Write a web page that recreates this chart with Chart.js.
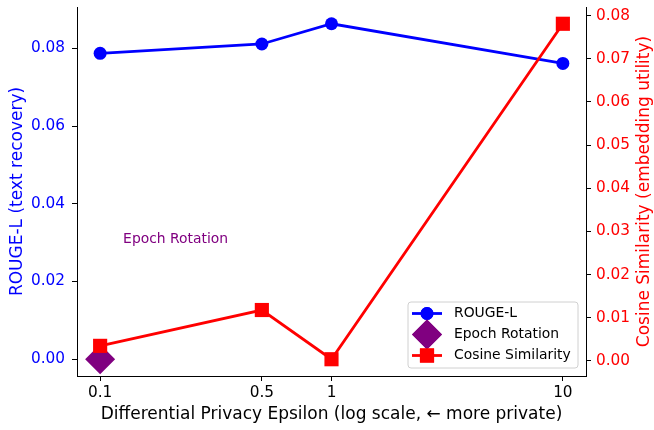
<!DOCTYPE html>
<html>
<head>
<meta charset="utf-8">
<script src="https://cdn.jsdelivr.net/npm/chart.js@4"></script>
<style>
  html, body { margin: 0; padding: 0; background: #fff; }
  #wrap { width: 654px; height: 430px; }
</style>
</head>
<body>
<div id="wrap"><canvas id="myChart" width="654" height="430"></canvas></div>
<script>
const epsilons = [0.1, 0.5, 1, 10];
const rougeL = [0.0787, 0.0811, 0.0863, 0.0761];
const cosineSim = [0.0035, 0.0118, 0.0004, 0.0781];
const epochEps = [0.1];
const epochRouge = [0.0];
const xTicks = [0.1, 0.5, 1, 10];
const xTickLabels = ["0.1", "0.5", "1", "10"];
const leftTicks = [0, 0.02, 0.04, 0.06, 0.08];
const rightTicks = [0, 0.01, 0.02, 0.03, 0.04, 0.05, 0.06, 0.07, 0.08];

const FONT = "'DejaVu Sans', sans-serif";
const TICK = 15.3, TITLE = 17, SMALL = 13.9;

// matplotlib-like 5% margins
const pad = (lo, hi) => [lo - (hi - lo) * 0.05, hi + (hi - lo) * 0.05];
const leftLim = pad(Math.min(...rougeL, ...epochRouge), Math.max(...rougeL, ...epochRouge));
const rightLim = pad(Math.min(...cosineSim), Math.max(...cosineSim));
const lx = pad(Math.log10(Math.min(...epsilons)), Math.log10(Math.max(...epsilons)));

const toPts = (xs, ys) => xs.map((x, i) => ({ x: x, y: ys[i] }));

const series = [
  { label: "ROUGE-L", color: "#0000ff", style: "circle", r: 6.5 },
  { label: "Epoch Rotation", color: "#800080", style: "rectRot", r: 15 },
  { label: "Cosine Similarity", color: "#ff0000", style: "rect", r: 10 }
];

const extras = {
  id: "extras",
  afterDraw(chart) {
    const ctx = chart.ctx;
    const xs = chart.scales.x, ys = chart.scales.y;
    const ca = chart.chartArea;
    ctx.save();
    // annotation
    ctx.font = SMALL + "px " + FONT;
    ctx.fillStyle = "#800080";
    ctx.textAlign = "left";
    ctx.textBaseline = "alphabetic";
    ctx.fillText("Epoch Rotation", xs.getPixelForValue(0.1257), ys.getPixelForValue(0.03));

    // right axis title, bottom-to-top like matplotlib
    ctx.translate(645, (ca.top + ca.bottom) / 2);
    ctx.rotate(-Math.PI / 2);
    ctx.font = TITLE + "px " + FONT;
    ctx.fillStyle = "#ff0000";
    ctx.textAlign = "center";
    ctx.textBaseline = "middle";
    ctx.fillText("Cosine Similarity (embedding utility)", 0, 0);
    ctx.restore();

    // legend
    ctx.save();
    const bx = 408, by = 302, bw = 170, bh = 66;
    ctx.beginPath();
    ctx.roundRect(bx, by, bw, bh, 3);
    ctx.fillStyle = "rgba(255,255,255,0.8)";
    ctx.fill();
    ctx.strokeStyle = "#d0d0d0";
    ctx.lineWidth = 1;
    ctx.stroke();
    series.forEach((s, i) => {
      const yy = 313.5 + i * 21;
      if (s.style !== "rectRot") {
        ctx.beginPath();
        ctx.moveTo(412, yy);
        ctx.lineTo(442, yy);
        ctx.strokeStyle = s.color;
        ctx.lineWidth = 2.8;
        ctx.stroke();
      }
      ctx.fillStyle = s.color;
      ctx.strokeStyle = s.color;
      Chart.helpers.drawPoint(ctx, { pointStyle: s.style, radius: s.r, rotation: 0, borderWidth: 0 }, 427, yy);
      ctx.fill();
      ctx.fillStyle = "#000";
      ctx.font = SMALL + "px " + FONT;
      ctx.textAlign = "left";
      ctx.textBaseline = "middle";
      ctx.fillText(s.label, 454, yy);
    });
    ctx.restore();
  }
};

const axisStyle = (color, padding) => ({
  border: { display: true, color: "#000", width: 1 },
  grid: { drawOnChartArea: false, drawTicks: true, tickLength: 5, tickColor: "#000", color: "#000" },
  ticks: { color: color, padding: padding, font: { family: FONT, size: TICK } }
});

new Chart(document.getElementById("myChart"), {
  type: "line",
  data: {
    datasets: [
      {
        label: series[0].label, data: toPts(epsilons, rougeL), yAxisID: "y",
        borderColor: series[0].color, backgroundColor: series[0].color, borderWidth: 2.8,
        pointStyle: series[0].style, pointRadius: series[0].r, pointBorderWidth: 0, order: 3, clip: false
      },
      {
        label: series[1].label, data: toPts(epochEps, epochRouge), yAxisID: "y", showLine: false,
        borderColor: series[1].color, backgroundColor: series[1].color,
        pointStyle: series[1].style, pointRadius: series[1].r, pointBorderWidth: 0, order: 2, clip: false
      },
      {
        label: series[2].label, data: toPts(epsilons, cosineSim), yAxisID: "y2",
        borderColor: series[2].color, backgroundColor: series[2].color, borderWidth: 2.8,
        pointStyle: series[2].style, pointRadius: series[2].r, pointBorderWidth: 0, order: 1, clip: false
      }
    ]
  },
  options: {
    responsive: false,
    animation: false,
    layout: { autoPadding: false, padding: { top: 7, left: 0, right: 0, bottom: 0 } },
    plugins: { legend: { display: false }, tooltip: { enabled: false } },
    scales: {
      x: Object.assign(axisStyle("#000", 3), {
        type: "logarithmic", position: "bottom",
        min: Math.pow(10, lx[0]), max: Math.pow(10, lx[1]),
        afterBuildTicks: (s) => { s.ticks = xTicks.map(v => ({ value: v })); },
        afterTickToLabelConversion: (s) => { s.ticks.forEach((t, i) => { t.label = xTickLabels[i]; }); },
        afterFit: (s) => { s.height = 54; s.paddingLeft = 0; s.paddingRight = 0; },
        title: { display: true, text: "Differential Privacy Epsilon (log scale, \u2190 more private)", color: "#000",
          font: { family: FONT, size: TITLE }, padding: { top: 0, bottom: 5 } }
      }),
      y: Object.assign(axisStyle("#0000ff", 7), {
        type: "linear", position: "left",
        min: leftLim[0], max: leftLim[1],
        afterBuildTicks: (s) => { s.ticks = leftTicks.map(v => ({ value: v })); },
        afterTickToLabelConversion: (s) => { s.ticks.forEach(t => { t.label = t.value.toFixed(2); }); },
        afterFit: (s) => { s.width = 77; s.paddingTop = 0; s.paddingBottom = 0; },
        title: { display: true, text: "ROUGE-L (text recovery)", color: "#0000ff",
          font: { family: FONT, size: TITLE }, padding: { top: 7, bottom: 0 } }
      }),
      y2: Object.assign(axisStyle("#ff0000", 5), {
        type: "linear", position: "right",
        min: rightLim[0], max: rightLim[1],
        afterBuildTicks: (s) => { s.ticks = rightTicks.map(v => ({ value: v })); },
        afterTickToLabelConversion: (s) => { s.ticks.forEach(t => { t.label = t.value.toFixed(2); }); },
        afterFit: (s) => { s.width = 68; s.paddingTop = 0; s.paddingBottom = 0; }
      })
    }
  },
  plugins: [extras]
});
</script>
</body>
</html>
